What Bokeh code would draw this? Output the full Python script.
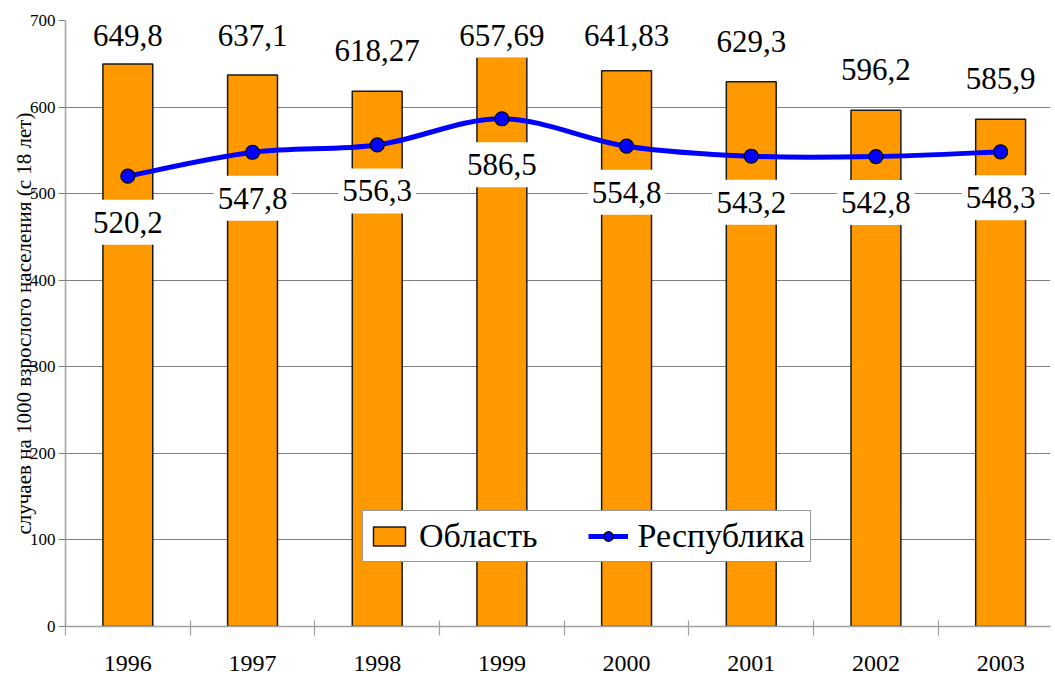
import numpy as np
from bokeh.plotting import figure
from bokeh.models import Range1d, FixedTicker, Legend, LegendItem
from bokeh.core.properties import value
from bokeh.embed import file_html
from bokeh.resources import INLINE

# ---- data ----
years = ["1996", "1997", "1998", "1999", "2000", "2001", "2002", "2003"]
oblast = [649.8, 637.1, 618.27, 657.69, 641.83, 629.3, 596.2, 585.9]
respublika = [520.2, 547.8, 556.3, 586.5, 554.8, 543.2, 542.8, 548.3]
y_ticks = [0, 100, 200, 300, 400, 500, 600, 700]
y_label = "случаев на 1000 взрослого населения (с 18 лет)"
legend_labels = ["Область", "Республика"]

SERIF = "'Liberation Serif'"


def fmt(v):
    return ("%g" % v).replace(".", ",")


x = np.arange(len(years), dtype=float)
ob = np.array(oblast)
rep = np.array(respublika)

p = figure(width=1055, height=676, output_backend="svg", toolbar_location=None,
           x_range=Range1d(-0.5, 7.4), y_range=Range1d(0, 700),
           min_border_left=65, min_border_right=5, min_border_top=20,
           min_border_bottom=50)
p.outline_line_color = None
p.background_fill_color = "white"

# bars
bars = p.vbar(x=x, top=ob, bottom=0, width=0.4, fill_color="#FF9900",
              line_color="#1a1a1a", line_width=1.5)

# smoothed line through the points (Catmull-Rom style bezier segments)
P = np.column_stack([x, rep])
ext = np.vstack([P[0], P, P[-1]])
n = len(P)
pm1 = ext[0:n - 1]
p0 = ext[1:n]
p1 = ext[2:n + 1]
p2 = ext[3:n + 2]
c0 = p0 + (p1 - pm1) / 6.0
c1 = p1 - (p2 - p0) / 6.0
line_r = p.bezier(x0=p0[:, 0], y0=p0[:, 1], x1=p1[:, 0], y1=p1[:, 1],
                  cx0=c0[:, 0], cy0=c0[:, 1], cx1=c1[:, 0], cy1=c1[:, 1],
                  line_color="#0000FF", line_width=5)
pts = p.scatter(x=x, y=rep, size=14, fill_color="#0000FF",
                line_color="black", line_width=1.2)

# value labels
pad = dict(left=4, right=4, top=12, bottom=12)
p.text(x=x, y=np.minimum(ob + 47, 683), text=[fmt(v) for v in oblast],
       text_font=value(SERIF), text_font_size="31px", text_color="black",
       text_align="center", text_baseline="middle",
       background_fill_color="white", padding=pad)
p.text(x=x, y=rep, y_offset=46, text=[fmt(v) for v in respublika],
       text_font=value(SERIF), text_font_size="31px", text_color="black",
       text_align="center", text_baseline="middle",
       background_fill_color="white", padding=pad)

# axes
p.xgrid.visible = False
p.ygrid.ticker = FixedTicker(ticks=y_ticks)
p.ygrid.grid_line_color = "#808080"
p.ygrid.grid_line_width = 1

xa = p.xaxis[0]
xa.ticker = FixedTicker(ticks=list(x), minor_ticks=list(np.arange(-0.5, 7.6, 1.0)))
xa.major_label_overrides = {i: yr for i, yr in enumerate(years)}
xa.axis_line_color = "#A0A0A0"
xa.axis_line_width = 1.5
xa.major_tick_line_color = None
xa.major_tick_out = 0
xa.major_tick_in = 0
xa.minor_tick_line_color = "#A0A0A0"
xa.minor_tick_line_width = 1.2
xa.minor_tick_in = 6
xa.minor_tick_out = 9
xa.major_label_text_font = SERIF
xa.major_label_text_font_size = "24px"
xa.major_label_text_color = "black"
xa.major_label_standoff = 20

ya = p.yaxis[0]
ya.ticker = FixedTicker(ticks=y_ticks)
ya.axis_line_color = "#A0A0A0"
ya.axis_line_width = 1.5
ya.major_tick_line_color = "#808080"
ya.major_tick_out = 7
ya.major_tick_in = 0
ya.minor_tick_line_color = None
ya.major_label_text_font = SERIF
ya.major_label_text_font_size = "17px"
ya.major_label_text_color = "black"
ya.major_label_standoff = 3
ya.axis_label = y_label
ya.axis_label_text_font = SERIF
ya.axis_label_text_font_style = "normal"
ya.axis_label_text_font_size = "21px"
ya.axis_label_text_color = "black"
ya.axis_label_standoff = -9

legend = Legend(items=[LegendItem(label=legend_labels[0], renderers=[bars]),
                       LegendItem(label=legend_labels[1], renderers=[line_r, pts])],
                orientation="horizontal", location=(297, 64))
legend.label_text_font = SERIF
legend.label_text_font_size = "34px"
legend.label_text_color = "black"
legend.glyph_width = 40
legend.glyph_height = 24
legend.label_standoff = 10
legend.spacing = 50
legend.padding = 6
legend.margin = 0
legend.border_line_color = "#333333"
legend.border_line_width = 1
legend.background_fill_color = "white"
legend.background_fill_alpha = 1.0
p.add_layout(legend)

open("out.html", "w").write(file_html(p, INLINE))
